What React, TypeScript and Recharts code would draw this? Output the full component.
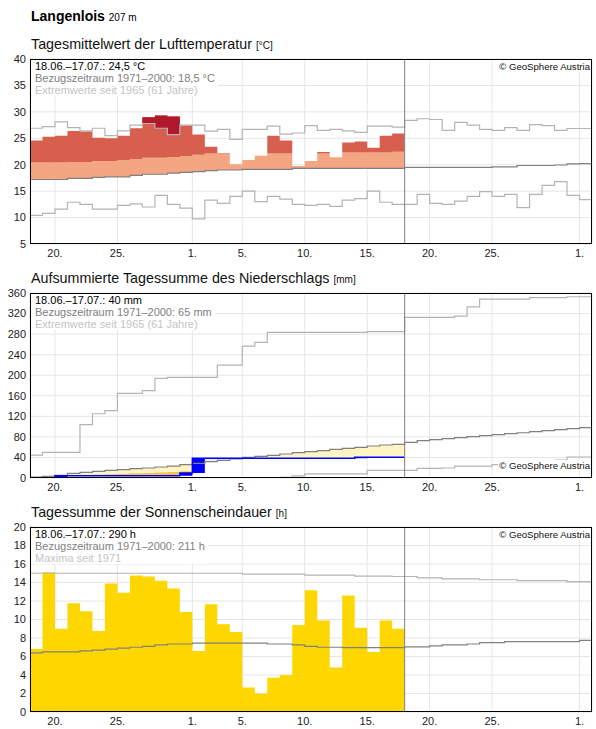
import { ComposedChart, Area, Line, XAxis, YAxis, CartesianGrid, ReferenceLine } from 'recharts';

// days counted from 18.06. (0) to 02.08. (45)
const totalDays = 45;
const todayX = 30;
const tickDays = [2, 7, 13, 17, 22, 27, 32, 37, 44];
const tickLabels = ['20.', '25.', '1.', '5.', '10.', '15.', '20.', '25.', '1.'];

// Lufttemperatur (°C)
const tempObs = [24.6, 25.3, 25.5, 26.4, 26.3, 25.1, 25.0, 25.5, 26.9, 29.0, 29.3, 29.1, 27.4, 25.7, 23.4, 22.2, 20.1, 20.9, 21.7, 25.5, 24.6, 19.75, 20.7, 22.4, 21.4, 24.2, 24.4, 23.2, 25.5, 25.9];
const tempBand = [20.4, 20.4, 20.4, 20.5, 20.5, 20.7, 20.7, 20.9, 21.1, 21.3, 21.3, 21.45, 21.6, 21.9, 22.1, 22.1, 22.1, 22.1, 22.1, 22.1, 22.1, 22.1, 22.1, 22.1, 22.2, 22.3, 22.3, 22.3, 22.3, 22.45];
const tempClim = [17.2, 17.2, 17.2, 17.4, 17.4, 17.6, 17.7, 17.7, 18.0, 18.2, 18.2, 18.4, 18.55, 18.7, 18.9, 19.0, 19.0, 19.1, 19.1, 19.1, 19.1, 19.3, 19.3, 19.3, 19.3, 19.3, 19.3, 19.3, 19.3, 19.3, 19.5, 19.5, 19.5, 19.5, 19.5, 19.5, 19.5, 19.6, 19.6, 19.85, 19.85, 19.85, 19.95, 20.15, 20.2];
const tempMax = [26.9, 27.2, 28.1, 27.0, 26.4, 26.9, 25.5, 26.4, 27.5, 27.8, 26.9, 25.7, 27.5, 27.5, 26.35, 26.7, 24.8, 26.7, 26.7, 27.3, 25.8, 26.0, 27.4, 26.5, 26.7, 26.4, 26.1, 27.3, 27.3, 27.1, 28.4, 28.7, 28.55, 26.5, 28.0, 27.5, 26.7, 26.5, 27.0, 26.5, 27.6, 27.4, 26.5, 26.85, 26.85];
const tempMin = [10.4, 10.8, 11.6, 12.9, 12.5, 11.6, 11.6, 12.3, 12.6, 12.0, 14.2, 12.5, 11.8, 9.75, 13.3, 12.7, 14.0, 15.0, 13.0, 14.0, 13.5, 12.5, 12.3, 12.5, 12.1, 13.3, 13.6, 15.0, 12.9, 12.5, 12.5, 14.4, 12.7, 12.5, 13.1, 14.0, 14.9, 14.0, 14.4, 11.9, 14.4, 16.1, 16.8, 14.2, 13.4];

// Niederschlag, aufsummiert (mm)
const precObs = [0, 0, 4.5, 4.5, 4.5, 4.5, 4.5, 4.5, 4.5, 4.5, 4.5, 4.5, 9.8, 38.3, 38.3, 38.3, 38.3, 38.3, 38.3, 38.3, 38.3, 38.3, 38.3, 38.3, 38.3, 38.3, 40.5, 40.5, 40.5, 40.5];
const precLow = [1.0, 1.6, 2.6, 4.5, 5.5, 6.5, 7.5, 8.1, 9.1, 9.8, 10.7, 11.7, 13.0, 14.2, 15.9, 17.2, 18.5, 20.1, 21.1, 22.0, 23.4, 24.6, 25.6, 26.6, 27.9, 28.9, 29.9, 31.1, 32.1, 32.8];
const precClim = [1.9, 3.2, 5.2, 9.1, 11.0, 13.0, 14.9, 16.2, 18.2, 19.5, 21.4, 23.3, 25.9, 28.5, 31.8, 34.4, 37.0, 40.2, 42.2, 44.1, 46.7, 49.3, 51.2, 53.2, 55.8, 57.7, 59.7, 62.3, 64.2, 65.5, 69.4, 72.6, 74.5, 76.5, 78.5, 80.4, 82.3, 84.3, 86.2, 88.1, 90.1, 92.0, 94.0, 95.9, 97.9];
const precMax = [44.7, 50, 50, 50, 104, 125, 131, 164.7, 164.7, 169.9, 193.9, 195.8, 195.8, 195.8, 195.8, 219.8, 219.8, 256.8, 264, 283.4, 283.4, 283.4, 283.4, 283.4, 283.4, 283.4, 283.4, 284.7, 284.7, 284.7, 312.6, 312.6, 312.6, 312.6, 315, 333, 348, 348, 348, 348, 351, 351, 351, 352.7, 352.7];
const precMin = [0, 0, 0, 0, 0, 0, 0, 0, 0, 0, 0, 0, 0, 0, 0, 0, 0, 0, 0, 0, 1.5, 4, 8, 8, 8, 8, 8, 15, 15, 15, 15, 18.9, 18.9, 19.5, 23.3, 23.3, 23.3, 26, 26, 26, 31, 31, 35, 40.9, 40.9];

// Sonnenscheindauer (h)
const sunObs = [6.8, 15.1, 9.0, 11.75, 10.9, 8.75, 13.9, 12.9, 14.75, 14.65, 14.2, 13.35, 10.8, 6.6, 11.65, 9.5, 8.65, 2.65, 2.0, 3.7, 4.0, 9.4, 13.15, 9.9, 4.8, 12.6, 9.1, 6.5, 9.9, 9.0];
const sunClim = [6.4, 6.5, 6.5, 6.5, 6.6, 6.7, 6.8, 6.9, 7.0, 7.1, 7.25, 7.35, 7.35, 7.45, 7.45, 7.45, 7.45, 7.45, 7.45, 7.35, 7.35, 7.25, 7.1, 7.0, 7.0, 6.95, 6.95, 6.95, 6.95, 6.95, 7.05, 7.05, 7.15, 7.25, 7.25, 7.35, 7.5, 7.5, 7.6, 7.6, 7.6, 7.6, 7.6, 7.6, 7.75];
const sunMax = [15.0, 15.0, 15.0, 15.0, 15.0, 15.0, 15.0, 15.0, 15.0, 15.0, 15.0, 15.0, 15.0, 15.0, 15.0, 15.0, 15.0, 14.9, 14.9, 14.9, 14.9, 14.9, 14.8, 14.8, 14.8, 14.8, 14.7, 14.7, 14.7, 14.65, 14.65, 14.5, 14.5, 14.4, 14.4, 14.4, 14.3, 14.3, 14.3, 14.2, 14.2, 14.2, 14.2, 14.1, 14.1];

const pick = (arr: number[], i: number) => arr[Math.min(i, arr.length - 1)];
const span = Array.from({ length: totalDays + 1 }, (_, i) => i);

const tempData = span.map((i) => {
  const row: Record<string, any> = { x: i, clim: pick(tempClim, i), max: pick(tempMax, i), min: pick(tempMin, i) };
  if (i <= todayX) {
    const j = Math.min(i, tempObs.length - 1);
    const o = tempObs[j], c = tempClim[j], b = tempBand[j], m = tempMax[j];
    row.low = [c, Math.max(c, Math.min(o, b))];
    row.mid = [b, Math.max(b, o)];
    row.hot = [m, Math.max(m, o)];
  }
  return row;
});

const precData = span.map((i) => {
  const row: Record<string, any> = { x: i, clim: pick(precClim, i), max: pick(precMax, i), min: pick(precMin, i) };
  if (i <= todayX) {
    const j = Math.min(i, precObs.length - 1);
    const o = precObs[j], c = precClim[j], l = precLow[j];
    row.obs = o;
    row.dry = [o, Math.max(o, c)];
    row.veryDry = [o, Math.max(o, l)];
    row.wet = [c, Math.max(c, o)];
    row.day = [j > 0 ? precObs[j - 1] : 0, o];
  }
  return row;
});

const sunData = span.map((i) => {
  const row: Record<string, any> = { x: i, clim: pick(sunClim, i), max: pick(sunMax, i) };
  if (i <= todayX) row.sun = sunObs[Math.min(i, sunObs.length - 1)];
  return row;
});

const FONT = '"Liberation Sans", Arial, sans-serif';
const LIGHT = '#b4b4b4';
const DARK = '#808080';

interface PanelProps {
  top: number;
  title: string;
  unit: string;
  data: Record<string, any>[];
  domain: [number, number];
  ticks: number[];
  info: string[];
  copyBottom?: boolean;
  children: React.ReactNode;
}

function Panel({ top, title, unit, data, domain, ticks, info, copyBottom, children }: PanelProps) {
  return (
    <>
      <div style={{ position: 'absolute', left: 31, top: top - 23, fontSize: 14.3, lineHeight: '16px', color: '#111', whiteSpace: 'nowrap' }}>
        {title} <span style={{ fontSize: 10 }}>[{unit}]</span>
      </div>
      <div style={{ position: 'absolute', left: 0, top: top - 10 }}>
        <ComposedChart width={596} height={220} data={data} margin={{ top: 10, right: 4, bottom: 0, left: 0 }}>
          <CartesianGrid stroke="#e6e6e6" />
          <XAxis
            type="number"
            dataKey="x"
            domain={[0, totalDays]}
            ticks={tickDays}
            interval={0}
            allowDataOverflow
            tickFormatter={(v: number) => tickLabels[tickDays.indexOf(v)]}
            axisLine={false}
            tickLine={false}
            tickSize={3}
            tickMargin={2}
            height={25}
            tick={{ fontSize: 11, fill: '#222', fontFamily: FONT }}
          />
          <YAxis
            type="number"
            domain={domain}
            ticks={ticks}
            interval={0}
            allowDataOverflow
            width={30}
            axisLine={false}
            tickLine={false}
            tickSize={3}
            tickMargin={1}
            tick={{ fontSize: 11, fill: '#222', fontFamily: FONT }}
          />
          {children}
          <ReferenceLine x={todayX} stroke={DARK} strokeWidth={1} />
        </ComposedChart>
        <div style={{ position: 'absolute', left: 30, top: 10, width: 562, height: 185, border: '1px solid #000', boxSizing: 'border-box', pointerEvents: 'none' }} />
        <div style={{ position: 'absolute', left: 31, top: 11, background: '#fff', padding: '0 3px 0 4px', fontSize: 11, lineHeight: '12px', whiteSpace: 'nowrap' }}>
          <div style={{ color: '#000' }}>{info[0]}</div>
          <div style={{ color: '#808080' }}>{info[1]}</div>
          <div style={{ color: '#c4c4c4' }}>{info[2]}</div>
        </div>
        <div style={{ position: 'absolute', right: 5, ...(copyBottom ? { top: 177 } : { top: 12 }), background: '#fff', padding: '0 1px', fontSize: 9.6, lineHeight: '11px', color: '#111', whiteSpace: 'nowrap' }}>
          © GeoSphere Austria
        </div>
      </div>
    </>
  );
}

export default function App() {
  const step = 'stepAfter' as const;
  return (
    <div style={{ position: 'absolute', left: 0, top: 0, width: 596, height: 729, background: '#fff', fontFamily: FONT }}>
      <div style={{ position: 'absolute', left: 31, top: 8, fontSize: 14, lineHeight: '16px', whiteSpace: 'nowrap' }}>
        <b>Langenlois</b> <span style={{ fontSize: 10 }}>207 m</span>
      </div>

      <Panel
        top={59}
        title="Tagesmittelwert der Lufttemperatur"
        unit="°C"
        data={tempData}
        domain={[5, 40]}
        ticks={[5, 10, 15, 20, 25, 30, 35, 40]}
        info={['18.06.–17.07.: 24,5 °C', 'Bezugszeitraum 1971–2000: 18,5 °C', 'Extremwerte seit 1965 (61 Jahre)']}
      >
        <Area type={step} dataKey="low" fill="#f4a582" fillOpacity={1} stroke="none" dot={false} activeDot={false} isAnimationActive={false} />
        <Area type={step} dataKey="mid" fill="#d6604d" fillOpacity={1} stroke="none" dot={false} activeDot={false} isAnimationActive={false} />
        <Area type={step} dataKey="hot" fill="#b2182b" fillOpacity={1} stroke="none" dot={false} activeDot={false} isAnimationActive={false} />
        <Line type={step} dataKey="max" stroke={LIGHT} strokeWidth={1.2} dot={false} activeDot={false} isAnimationActive={false} />
        <Line type={step} dataKey="min" stroke={LIGHT} strokeWidth={1.2} dot={false} activeDot={false} isAnimationActive={false} />
        <Line type={step} dataKey="clim" stroke={DARK} strokeWidth={1.2} dot={false} activeDot={false} isAnimationActive={false} />
      </Panel>

      <Panel
        top={293}
        title="Aufsummierte Tagessumme des Niederschlags"
        unit="mm"
        data={precData}
        domain={[0, 360]}
        ticks={[0, 40, 80, 120, 160, 200, 240, 280, 320, 360]}
        info={['18.06.–17.07.: 40 mm', 'Bezugszeitraum 1971–2000: 65 mm', 'Extremwerte seit 1965 (61 Jahre)']}
        copyBottom
      >
        <Area type={step} dataKey="dry" fill="#fff5c2" fillOpacity={1} stroke="none" dot={false} activeDot={false} isAnimationActive={false} />
        <Area type={step} dataKey="veryDry" fill="#fdc04f" fillOpacity={1} stroke="none" dot={false} activeDot={false} isAnimationActive={false} />
        <Area type={step} dataKey="wet" fill="#e6f0ff" fillOpacity={1} stroke="none" dot={false} activeDot={false} isAnimationActive={false} />
        <Line type={step} dataKey="max" stroke={LIGHT} strokeWidth={1.2} dot={false} activeDot={false} isAnimationActive={false} />
        <Line type={step} dataKey="min" stroke={LIGHT} strokeWidth={1.2} dot={false} activeDot={false} isAnimationActive={false} />
        <Line type={step} dataKey="clim" stroke={DARK} strokeWidth={1.2} dot={false} activeDot={false} isAnimationActive={false} />
        <Area type={step} dataKey="day" fill="#0000ff" fillOpacity={1} stroke="none" dot={false} activeDot={false} isAnimationActive={false} />
        <Line type={step} dataKey="obs" stroke="#0000ff" strokeWidth={1.5} dot={false} activeDot={false} isAnimationActive={false} />
      </Panel>

      <Panel
        top={527}
        title="Tagessumme der Sonnenscheindauer"
        unit="h"
        data={sunData}
        domain={[0, 20]}
        ticks={[0, 2, 4, 6, 8, 10, 12, 14, 16, 18, 20]}
        info={['18.06.–17.07.: 290 h', 'Bezugszeitraum 1971–2000: 211 h', 'Maxima seit 1971']}
      >
        <Area type={step} dataKey="sun" fill="#ffd700" fillOpacity={1} stroke="none" dot={false} activeDot={false} isAnimationActive={false} />
        <Line type={step} dataKey="max" stroke={LIGHT} strokeWidth={1.2} dot={false} activeDot={false} isAnimationActive={false} />
        <Line type={step} dataKey="clim" stroke={DARK} strokeWidth={1.2} dot={false} activeDot={false} isAnimationActive={false} />
      </Panel>
    </div>
  );
}
